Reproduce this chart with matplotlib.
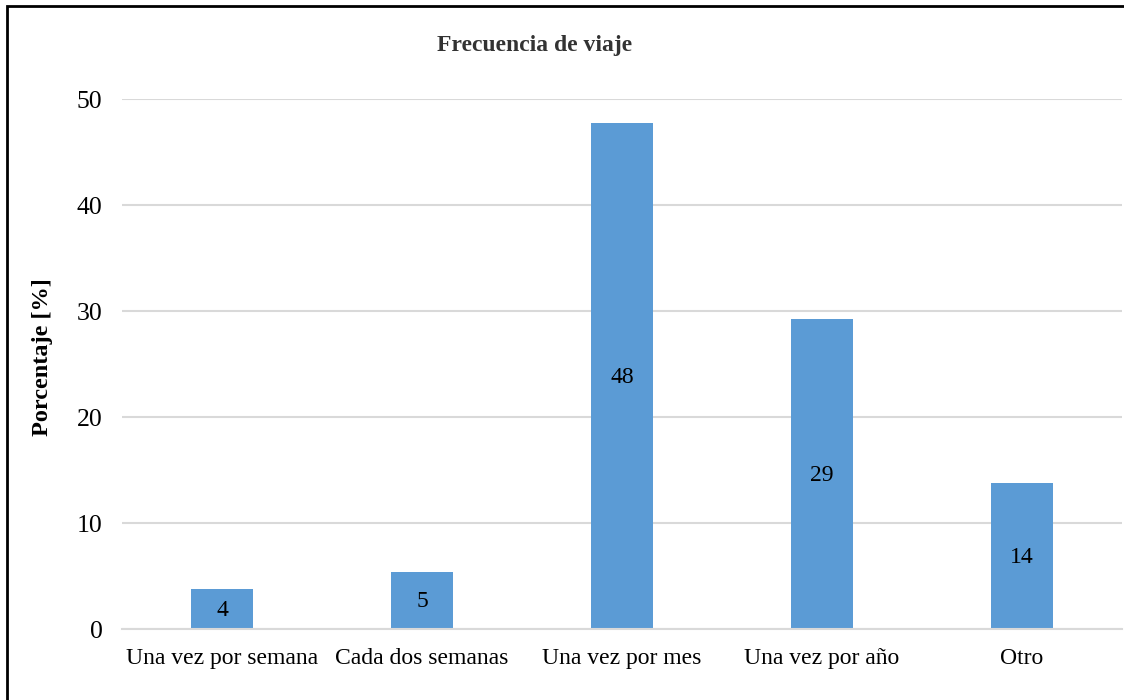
import numpy as np
import matplotlib
matplotlib.use('Agg')
import matplotlib.pyplot as plt
from matplotlib.patches import Rectangle

plt.rcParams['font.family'] = ['Liberation Serif', 'DejaVu Serif']

# data
categories = ['Una vez por semana', 'Cada dos semanas', 'Una vez por mes', 'Una vez por año', 'Otro']
percentages = [3.8, 5.4, 47.7, 29.2, 13.8]
bar_labels = ['4', '5', '48', '29', '14']
yticks = [0, 10, 20, 30, 40, 50]

barColour = '#5B9BD5'
gridColour = '#D9D9D9'

fig = plt.figure(figsize=(11.24, 7), dpi=100)
ax = fig.add_axes([122/1124, 1-629/700, 1000/1124, 530/700])

x = np.arange(len(categories))
bars = ax.bar(x, percentages, width=0.31, color=barColour, zorder=3)

ax.set_xlim(-0.5, len(categories)-0.5)
ax.set_ylim(0, 50)
ax.set_yticks(yticks)
ax.set_xticks(x, categories)

# Removes the borders of the plot, keep only gray base line
for s in ['top', 'left', 'right']:
    ax.spines[s].set_visible(False)
ax.spines['bottom'].set_color(gridColour)
ax.spines['bottom'].set_linewidth(1.5)
ax.spines['bottom'].set_zorder(4)

ax.tick_params(axis='both', length=0, colors='black')
ax.tick_params(axis='x', labelsize=17, pad=14)
ax.tick_params(axis='y', labelsize=18.5, pad=14)

ax.yaxis.grid(True, color=gridColour, linewidth=1.5, zorder=0)
ax.set_axisbelow(True)

# value labels in the middle of the bars
for rect, lab in zip(bars, bar_labels):
    ax.text(rect.get_x()+rect.get_width()/2, rect.get_height()/2 - 0.15, lab,
            ha='center', va='center', fontsize=17, color='black', zorder=5)

fig.text((436+633)/2/1124, 1-46/700, 'Frecuencia de viaje', ha='center', va='center',
         fontsize=17, fontweight='bold', color='#333333')
fig.text(43/1124, 1-357/700, 'Porcentaje [%]', ha='center', va='center',
         rotation=90, fontsize=17.5, fontweight='bold')

# outer frame
fig.patches.append(Rectangle((7/1124, -0.1), 1.2, 1-6/700+0.1, transform=fig.transFigure,
                             fill=False, edgecolor='black', linewidth=2))

fig.savefig('out.png', dpi=100)
